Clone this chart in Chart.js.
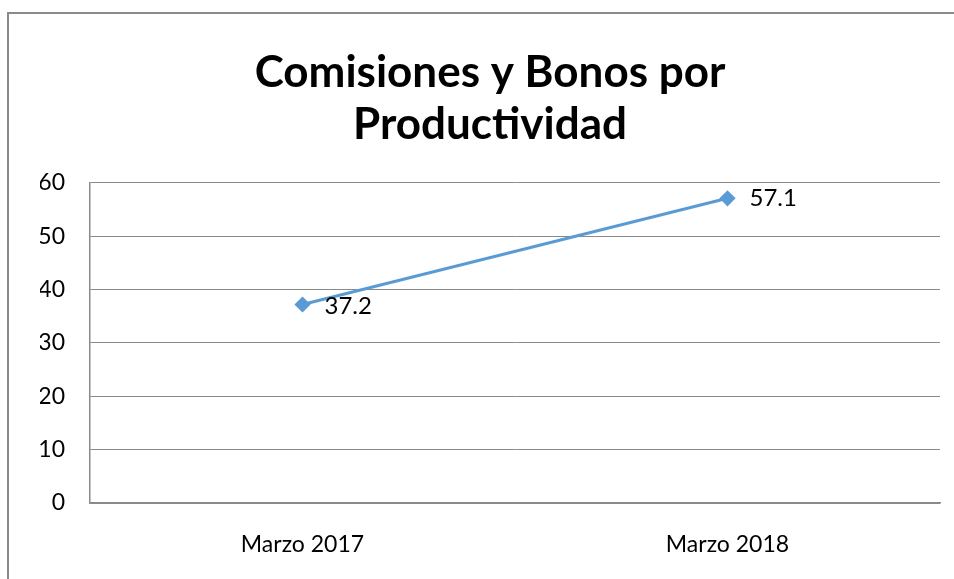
<!DOCTYPE html>
<html>
<head>
<meta charset="utf-8">
<script src="https://cdn.jsdelivr.net/npm/chart.js@4/dist/chart.umd.min.js"></script>
<style>
  html, body { margin: 0; padding: 0; background: #fff; overflow: hidden; }
  #frame { position: absolute; left: 7px; top: 12px; width: 1000px; height: 700px; border: 2px solid #8a8a8a; }
  #wrap { position: absolute; left: 0; top: 0; width: 954px; height: 579px; }
</style>
</head>
<body>
<div id="frame"></div>
<div id="wrap"><canvas id="chart"></canvas></div>
<script>
const categories = ['Marzo 2017', 'Marzo 2018'];
const values = [37.2, 57.1];
const yTicks = [0, 10, 20, 30, 40, 50, 60];

// draws the value next to each point
const valueLabels = {
    id: 'valueLabels',
    afterDatasetsDraw(chart) {
        const ctx = chart.ctx;
        const meta = chart.getDatasetMeta(0);
        ctx.save();
        ctx.font = '24px Lato';
        ctx.fillStyle = '#000';
        ctx.textAlign = 'left';
        ctx.textBaseline = 'middle';
        meta.data.forEach((pt, i) => {
            const dy = i === 0 ? 2 : 0;
            ctx.fillText(values[i].toFixed(1), pt.x + 22, pt.y + dy);
        });
        ctx.restore();
    }
};

new Chart(document.getElementById('chart').getContext('2d'), {
    type: 'line',
    data: {
        labels: categories,
        datasets: [{
            data: values,
            borderColor: '#5b9bd5',
            backgroundColor: '#5b9bd5',
            borderWidth: 3,
            pointStyle: 'rectRot',
            pointRadius: 6,
            pointHoverRadius: 6,
            tension: 0
        }]
    },
    options: {
        responsive: true,
        maintainAspectRatio: false,
        animation: false,
        layout: { padding: { left: 40, right: 14, top: 0, bottom: 0 } },
        plugins: {
            legend: { display: false },
            tooltip: { enabled: false },
            title: {
                display: true,
                text: ['Comisiones y Bonos por', 'Productividad'],
                color: '#000',
                font: { family: 'Lato', size: 44, weight: 'bold', lineHeight: 1.18 },
                padding: { top: 47, bottom: 32 }
            }
        },
        scales: {
            x: {
                offset: true,
                afterFit(scale) { scale.height = 76; },
                grid: { display: false, drawTicks: false },
                border: { color: '#8a8a8a', width: 1.5 },
                ticks: { color: '#000', font: { family: 'Lato', size: 23 }, padding: 28 }
            },
            y: {
                min: 0,
                max: 60,
                afterFit(scale) { scale.width = 50; },
                afterBuildTicks(scale) { scale.ticks = yTicks.map(v => ({ value: v })); },
                grid: { color: '#8a8a8a', drawTicks: false },
                border: { color: '#8a8a8a', width: 1.5 },
                ticks: { color: '#000', font: { family: 'Lato', size: 23 }, padding: 25 }
            }
        }
    },
    plugins: [valueLabels]
});
</script>
</body>
</html>
